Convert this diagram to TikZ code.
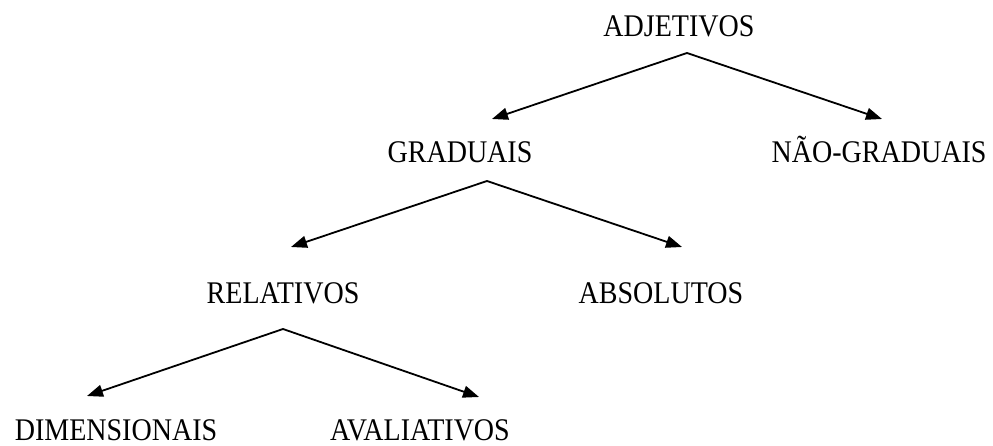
\documentclass[tikz,border=0pt]{standalone}
\usepackage{fontspec}
\setmainfont{Liberation Serif}[FakeStretch=0.89]
\usetikzlibrary{arrows.meta}

\begin{document}
\begin{tikzpicture}[
  x=1pt, y=-1pt,
  every node/.style={
    anchor=base,
    inner sep=0pt,
    font=\fontsize{31.5}{36}\selectfont
  },
  branch/.style={
    line width=1.8pt,
    {Triangle[length=16pt,width=12pt]}-{Triangle[length=16pt,width=12pt]}
  }
]
  \useasboundingbox (0,0) rectangle (993,446);
  % word nodes
  \node (adjetivos) at (679,37) {ADJETIVOS};
  \node (graduais) at (460,163) {GRADUAIS};
  \node (naograduais) at (879,163) {NÃO-GRADUAIS};
  \node (relativos) at (283,303) {RELATIVOS};
  \node (absolutos) at (661,303) {ABSOLUTOS};
  \node (dimensionais) at (116,440) {DIMENSIONAIS};
  \node (avaliativos) at (420,440) {AVALIATIVOS};
  % forks and arrow tips
  \coordinate (adjfork) at (687,53);
  \coordinate (gradtip) at (492,119);
  \coordinate (naotip) at (882,119);
  \coordinate (gradfork) at (487,181);
  \coordinate (reltip) at (291,247);
  \coordinate (abstip) at (682,247);
  \coordinate (relfork) at (283,329);
  \coordinate (dimtip) at (87,396);
  \coordinate (avaltip) at (479,397);
  \draw[branch] (gradtip) -- (adjfork) -- (naotip);
  \draw[branch] (reltip) -- (gradfork) -- (abstip);
  \draw[branch] (dimtip) -- (relfork) -- (avaltip);
\end{tikzpicture}
\end{document}
